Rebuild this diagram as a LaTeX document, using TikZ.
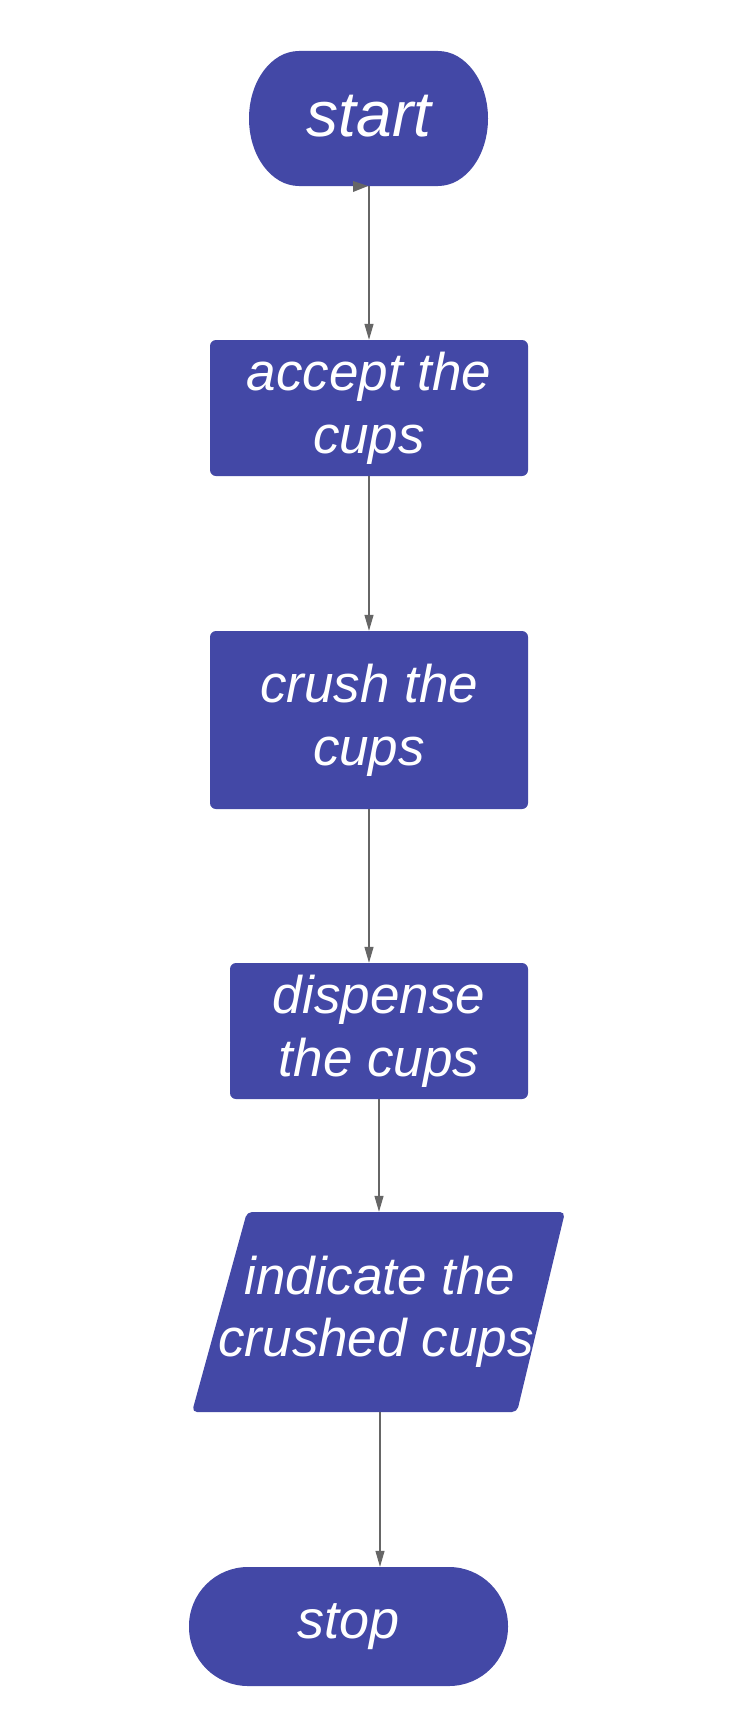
\documentclass[tikz,border=0pt]{standalone}
\usepackage{fontspec}
\setmainfont{Liberation Sans}
\usetikzlibrary{arrows.meta,calc}
\definecolor{boxblue}{HTML}{4348A6}
\definecolor{linegray}{HTML}{666666}
\tikzset{
  proc/.style={fill=boxblue, rounded corners=6pt, inner sep=0pt, align=center,
    text=white, font=\fontsize{53}{63}\selectfont\itshape},
  ghost/.style={inner sep=0pt, align=center, text=white,
    font=\fontsize{53}{63}\selectfont\itshape},
  conn/.style={draw=linegray, line width=1.2pt, -{Triangle[length=16pt,width=9pt]}, color=linegray},
}
\begin{document}
\begin{tikzpicture}[x=1pt,y=-1pt]
\useasboundingbox[fill=white] (0,0) rectangle (742,1726);
% start terminal
\fill[boxblue] (299,51) -- (438,51) arc[start angle=-90,end angle=90,x radius=50,y radius=67.5]
  -- (299,186) arc[start angle=90,end angle=270,x radius=50,y radius=67.5] -- cycle;
\node[ghost, minimum width=239pt, minimum height=135pt, font=\fontsize{64}{70}\selectfont\itshape] (start) at (369,118.5) {\raisebox{6pt}{start}};
% process boxes
\node[proc, minimum width=318pt, minimum height=136pt] (accept) at (369,408) {accept the\\cups};
\node[proc, minimum width=318pt, minimum height=178pt] (crush) at (369,720) {crush the\\cups};
\node[proc, minimum width=298pt, minimum height=136pt] (dispense) at (379,1031) {dispense\\the cups};
% parallelogram
\fill[boxblue, rounded corners=5pt] (247,1212) -- (565,1212) -- (517,1412) -- (192,1412) -- cycle;
\node[ghost, minimum width=318pt, minimum height=200pt] (io) at (380,1312) {indicate the\\[-1pt]\hspace*{-8pt}crushed cups};
% stop terminal
\fill[boxblue, rounded corners=59pt] (189,1567) rectangle (508,1686);
\node[ghost, minimum width=319pt, minimum height=119pt, font=\fontsize{54}{63}\selectfont\itshape] (stop) at (348.5,1626.5) {stop};
% connectors
\draw[conn] (start.south) -- (accept.north);
\fill[linegray] (353,181) -- (368,186) -- (353,192) -- cycle;
\draw[conn] (accept.south) -- (crush.north);
\draw[conn] (crush.south) -- (crush.south |- dispense.north);
\draw[conn] (dispense.south) -- (dispense.south |- io.north);
\draw[conn] (io.south) -- (io.south |- stop.north);
\end{tikzpicture}
\end{document}
